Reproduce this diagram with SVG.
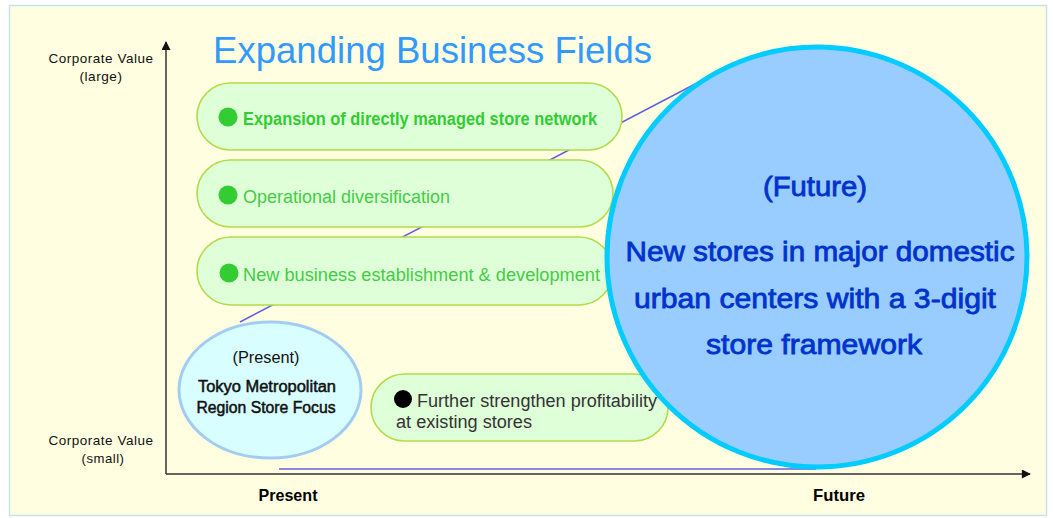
<svg xmlns="http://www.w3.org/2000/svg" width="1053" height="518" viewBox="0 0 1053 518">
  <style>
    text { font-family: "Liberation Sans", Arial, sans-serif; }
    .axis-label { font-size: 13px; fill: #111; text-anchor: middle; letter-spacing: 0.5px; }
    .time-label { font-size: 17px; font-weight: bold; fill: #000; text-anchor: middle; }
    .title { font-size: 36px; fill: #3399ff; }
    .pill { fill: #dfffd9; stroke: #b2dc48; stroke-width: 1.6; }
    .bullet { fill: #33cc33; }
    .pill-text { font-size: 18px; fill: #44cc44; }
    .pill-text-bold { font-size: 18px; font-weight: bold; fill: #33cc33; }
    .profit-text { font-size: 18px; fill: #333; }
    .present-text { font-size: 16px; fill: #111; text-anchor: middle; }
    .present-strong { stroke: #111; stroke-width: 0.5; }
    .future-text { font-size: 28px; fill: #0033cc; stroke: #0033cc; stroke-width: 0.8; text-anchor: middle; }
    .axis { stroke: #333; stroke-width: 1.5; fill: none; }
    .tangent { stroke: #6060e0; stroke-width: 1.5; fill: none; }
  </style>
  <defs>
    <marker id="arrow" viewBox="0 0 10 10" refX="9" refY="5" markerWidth="10" markerHeight="9" markerUnits="userSpaceOnUse" orient="auto">
      <path d="M0,0 L10,5 L0,10 z" fill="#111"/>
    </marker>
  </defs>

  <!-- page and panel -->
  <rect x="0" y="0" width="1053" height="518" fill="#ffffff"/>
  <rect x="9.5" y="5.5" width="1037" height="510" fill="#fffee0" stroke="#c8e2f4" stroke-width="1.5"/>

  <!-- axes and tangent lines -->
  <g id="connectors">
    <line class="axis" x1="166" y1="474" x2="166" y2="42" marker-end="url(#arrow)"/>
    <line class="axis" x1="166" y1="474" x2="1030" y2="474" marker-end="url(#arrow)"/>
    <line class="tangent" x1="240" y1="322" x2="697" y2="83"/>
    <line class="tangent" x1="279" y1="469" x2="816" y2="469" stroke="#3333dd"/>
  </g>

  <g id="title">
    <text class="title" x="213" y="63" textLength="439" lengthAdjust="spacingAndGlyphs">Expanding Business Fields</text>
  </g>

  <g id="axis-labels">
    <text class="axis-label" x="101" y="63" textLength="105" lengthAdjust="spacingAndGlyphs">Corporate Value</text>
    <text class="axis-label" x="101" y="81" textLength="43" lengthAdjust="spacingAndGlyphs">(large)</text>
    <text class="axis-label" x="101" y="445" textLength="105" lengthAdjust="spacingAndGlyphs">Corporate Value</text>
    <text class="axis-label" x="103" y="463" textLength="43" lengthAdjust="spacingAndGlyphs">(small)</text>
    <text class="time-label" x="288" y="501" textLength="59" lengthAdjust="spacingAndGlyphs">Present</text>
    <text class="time-label" x="839" y="501" textLength="52" lengthAdjust="spacingAndGlyphs">Future</text>
  </g>

  <g id="store-network">
    <rect class="pill" x="197" y="83" width="425" height="67" rx="33.5"/>
    <circle class="bullet" cx="228" cy="117" r="9.5"/>
    <text class="pill-text-bold" x="243" y="125" textLength="354" lengthAdjust="spacingAndGlyphs">Expansion of directly managed store network</text>
  </g>

  <g id="diversification">
    <rect class="pill" x="197" y="160" width="416" height="67" rx="33.5"/>
    <circle class="bullet" cx="228" cy="195" r="9.5"/>
    <text class="pill-text" x="243" y="203" textLength="207" lengthAdjust="spacingAndGlyphs">Operational diversification</text>
  </g>

  <g id="new-business">
    <rect class="pill" x="197" y="237" width="416" height="68" rx="34"/>
    <circle class="bullet" cx="229" cy="273" r="9.5"/>
    <text class="pill-text" x="243" y="281" textLength="357" lengthAdjust="spacingAndGlyphs">New business establishment &amp; development</text>
  </g>

  <g id="present">
    <ellipse cx="270" cy="390" rx="91" ry="68" fill="#d9feff" stroke="#a2cdf2" stroke-width="3"/>
    <text class="present-text" x="266" y="363" textLength="67" lengthAdjust="spacingAndGlyphs">(Present)</text>
    <text class="present-text present-strong" x="267" y="392" textLength="138" lengthAdjust="spacingAndGlyphs">Tokyo Metropolitan</text>
    <text class="present-text present-strong" x="266" y="413" textLength="139" lengthAdjust="spacingAndGlyphs">Region Store Focus</text>
  </g>

  <g id="profitability">
    <rect class="pill" x="371" y="374" width="297" height="67" rx="33.5"/>
    <circle cx="403" cy="399" r="9" fill="#000"/>
    <text class="profit-text" x="417" y="407" textLength="240" lengthAdjust="spacingAndGlyphs">Further strengthen profitability</text>
    <text class="profit-text" x="396" y="428" textLength="136" lengthAdjust="spacingAndGlyphs">at existing stores</text>
  </g>

  <g id="future">
    <circle cx="817" cy="257" r="210" fill="#99ccff" stroke="#00ccff" stroke-width="5"/>
    <text class="future-text" x="815" y="196" font-size="25" stroke-width="0.4" textLength="104" lengthAdjust="spacingAndGlyphs">(Future)</text>
    <text class="future-text" x="820" y="261" textLength="389" lengthAdjust="spacingAndGlyphs">New stores in major domestic</text>
    <text class="future-text" x="815" y="308" textLength="362" lengthAdjust="spacingAndGlyphs">urban centers with a 3-digit</text>
    <text class="future-text" x="814" y="354" textLength="216" lengthAdjust="spacingAndGlyphs">store framework</text>
  </g>
</svg>
